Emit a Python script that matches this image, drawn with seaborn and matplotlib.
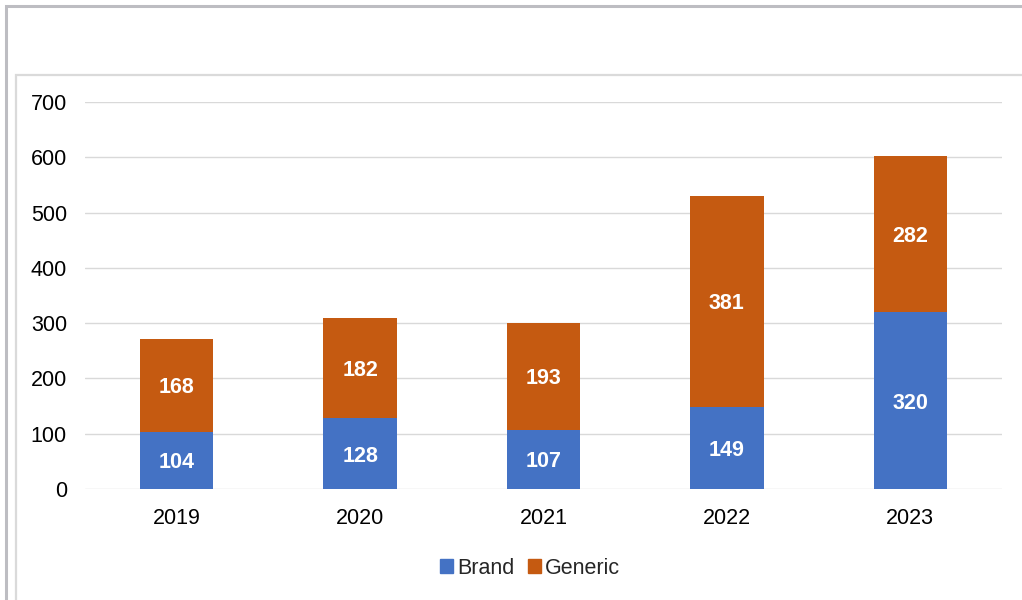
import matplotlib
matplotlib.use('Agg')
import matplotlib.pyplot as plt
from matplotlib.patches import Patch, Rectangle
import seaborn as sns

# data
years = ['2019', '2020', '2021', '2022', '2023']
brand = [104, 128, 107, 149, 320]
generic = [168, 182, 193, 381, 282]

c_brand = '#4472C4'
c_generic = '#C55A11'

sns.set_style('white')
plt.rcParams['font.family'] = ['Liberation Sans', 'DejaVu Sans']

fig = plt.figure(figsize=(10.22, 6), dpi=100)
ax = fig.add_axes([85 / 1022, 1 - 489 / 600, (1002 - 85) / 1022, (489 - 102) / 600])

# 外框
fig.patches.append(Rectangle((6 / 1022, -0.1), 1.2, 1 - 6 / 600 + 0.1, transform=fig.transFigure,
                             fill=False, edgecolor='#BDBDC2', linewidth=2.2, zorder=0))
fig.patches.append(Rectangle((16 / 1022, -0.1), 1.2, 1 - 75 / 600 + 0.1, transform=fig.transFigure,
                             fill=False, edgecolor='#DADADA', linewidth=1.6, zorder=0))

sns.barplot(x=years, y=brand, color=c_brand, saturation=1, width=0.4, linewidth=0, ax=ax, zorder=3)
sns.barplot(x=years, y=generic, bottom=brand, color=c_generic, saturation=1, width=0.4, linewidth=0,
            ax=ax, zorder=3)

for cont in ax.containers:
    txts = ax.bar_label(cont, label_type='center', color='white', fontsize=15.5, fontweight='bold')
    for t in txts:
        t.set_va('center_baseline')

ax.set_ylim(0, 700)
ax.set_xlim(-0.5, 4.5)
ax.set_yticks(range(0, 701, 100))
ax.grid(axis='y', color='#D9D9D9', linewidth=1, zorder=0)
ax.set_axisbelow(True)
for s in ax.spines.values():
    s.set_visible(False)
ax.tick_params(axis='both', length=0, labelsize=15.5, labelcolor='black')
ax.tick_params(axis='y', pad=13)
ax.tick_params(axis='x', pad=14)
ax.set_xlabel('')
ax.set_ylabel('')

handles = [Patch(color=c_brand, label='Brand'), Patch(color=c_generic, label='Generic')]
fig.legend(handles=handles, loc='center', bbox_to_anchor=(530 / 1022, 1 - 568 / 600), ncol=2,
           frameon=False, fontsize=15.5, handlelength=0.6, handleheight=0.6,
           handletextpad=0.2, columnspacing=0.65)

fig.savefig('out.png', dpi=100)
